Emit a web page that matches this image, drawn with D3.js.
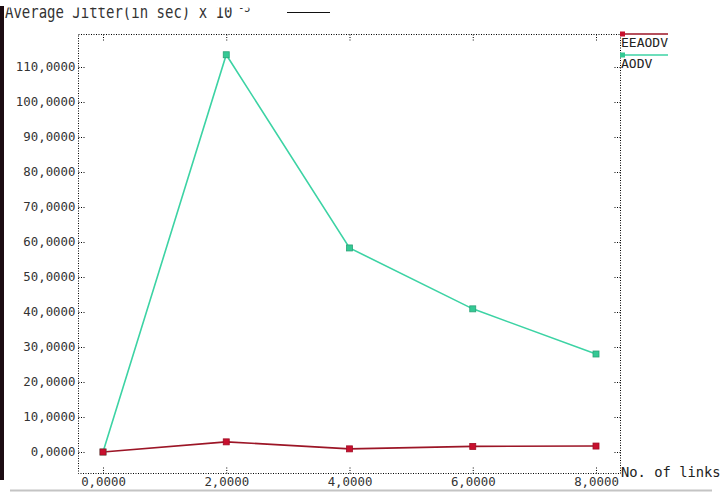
<!DOCTYPE html>
<html>
<head>
<meta charset="utf-8">
<script src="https://cdn.jsdelivr.net/npm/d3@7"></script>
<style>
  body{margin:0;background:#fff;}
  svg{display:block;}
</style>
</head>
<body>
<div id="grafico"></div>
<script>
// datos
var links=[0,2,4,6,8];
var eeaodv=[0,2.9,0.9,1.6,1.7];
var aodv=[0,113.5,58.3,40.9,28.0];
var xTicks=[0,2,4,6,8];
var yTicks=[0,10,20,30,40,50,60,70,80,90,100,110];
var series=[
	{nombre:"EEAODV",valores:eeaodv,color:"#9c1526",marca:"#c8102e"},
	{nombre:"AODV",valores:aodv,color:"#3cd3a4",marca:"#34c994"}
];

var ancho=726, alto=494;
var fuente="'DejaVu Sans Mono', monospace";
var marco={left:78.5,right:620.5,top:34.5,bottom:473.5};

var svg=d3.select("#grafico").append("svg")
	.attr("width",ancho).attr("height",alto);

var x=d3.scaleLinear().domain([0,8]).range([103,596]);
var y=d3.scaleLinear().domain([0,110]).range([452,67]);

var fmt=function(d){return d3.format(".4f")(d).replace(".",",");};

// barra negra izquierda y linea gris de abajo
svg.append("rect").attr("x",0).attr("y",6).attr("width",4).attr("height",474).style("fill","#1c0c12");
svg.append("line").attr("x1",10).attr("x2",712).attr("y1",490.5).attr("y2",490.5)
	.style("stroke","#c4c4c4").style("stroke-width",2);

// titulo recortado arriba
svg.append("clipPath").attr("id","corte").append("rect")
	.attr("x",0).attr("y",7.5).attr("width",ancho).attr("height",20);
var titulo=svg.append("g").attr("clip-path","url(#corte)")
	.append("text")
	.attr("transform","translate(5,18) scale(1,1.3)")
	.style("font-family",fuente).style("font-size","14px").style("fill","#333");
titulo.append("tspan").text("Average Jitter(in sec) x 10");
titulo.append("tspan").attr("dy",-5).style("font-size","10px").text(" -3");
svg.append("line").attr("x1",287).attr("x2",330).attr("y1",12.5).attr("y2",12.5)
	.style("stroke","#111").style("stroke-width",1);

// marco punteado
svg.append("rect")
	.attr("x",marco.left).attr("y",marco.top)
	.attr("width",marco.right-marco.left).attr("height",marco.bottom-marco.top)
	.style("fill","none").style("stroke","#000").style("stroke-dasharray","1 1.5");

// ejes
svg.append("g").attr("transform","translate(0,"+marco.bottom+")")
	.call(d3.axisBottom(x).tickValues(xTicks).tickSize(-6).tickPadding(4).tickFormat(fmt));
svg.append("g").attr("transform","translate(0,"+marco.top+")")
	.call(d3.axisTop(x).tickValues(xTicks).tickSize(-6).tickFormat(""));
svg.append("g").attr("transform","translate("+marco.left+",0)")
	.call(d3.axisLeft(y).tickValues(yTicks).tickSize(-7).tickPadding(3).tickFormat(fmt));
svg.append("g").attr("transform","translate("+marco.right+",0)")
	.call(d3.axisRight(y).tickValues(yTicks).tickSize(-7).tickFormat(""));

svg.selectAll(".domain").remove();
svg.selectAll(".tick line").style("stroke","#000").style("stroke-dasharray","1 1.5");
svg.selectAll(".tick text").style("font-family",fuente).style("font-size","12.4px").style("fill","#333");

svg.append("text").attr("x",621).attr("y",477)
	.style("font-family",fuente).style("font-size","13.8px").style("fill","#222")
	.text("No. of links");

// lineas
var linea=d3.line().x((d,i)=>x(links[i])).y(d=>y(d));

series.slice().reverse().forEach(function(s){
	svg.append("path").datum(s.valores)
		.attr("d",linea)
		.style("fill","none").style("stroke",s.color).style("stroke-width",1.6);
});
series.slice().reverse().forEach(function(s){
	svg.selectAll(".m"+s.nombre).data(s.valores).enter().append("rect")
		.attr("class","m"+s.nombre)
		.attr("x",(d,i)=>x(links[i])-3).attr("y",d=>y(d)-3)
		.attr("width",6).attr("height",6)
		.style("fill",s.marca).style("stroke",d3.color(s.marca).darker(0.6)).style("stroke-width",0.8);
});

// leyenda
var leyenda=svg.selectAll(".leyenda").data(series).enter().append("g")
	.attr("class","leyenda")
	.attr("transform",(d,i)=>"translate(620,"+(34+i*21)+")");
leyenda.append("line").attr("x1",0).attr("x2",48).attr("y1",0).attr("y2",0)
	.style("stroke",d=>d.color).style("stroke-width",1.6);
leyenda.append("rect").attr("x",0).attr("y",-2.5).attr("width",5).attr("height",5)
	.style("fill",d=>d.marca);
leyenda.append("text").attr("x",1).attr("y",13)
	.style("font-family",fuente).style("font-size","13px").style("fill","#222")
	.text(d=>d.nombre);
</script>
</body>
</html>
